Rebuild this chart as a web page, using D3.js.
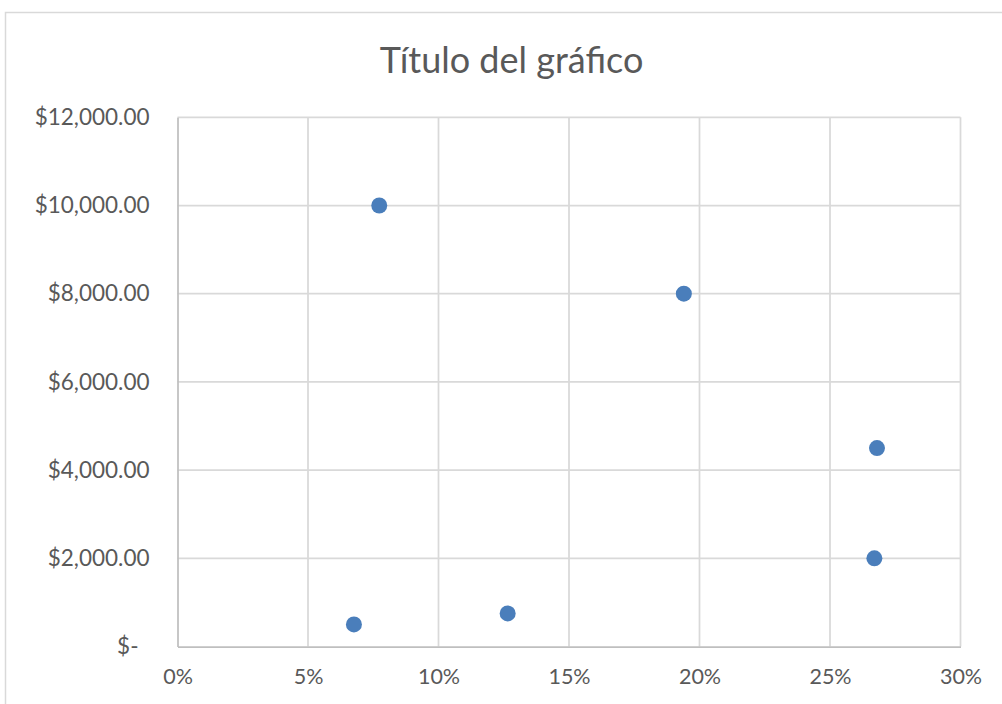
<!DOCTYPE html>
<html>
<head>
<meta charset="utf-8">
<script src="https://cdn.jsdelivr.net/npm/d3@7"></script>
<style>
  html, body { margin: 0; padding: 0; background: #ffffff; }
  svg { display: block; }
  text { font-family: Lato, "Open Sans", sans-serif; fill: #595959; }
</style>
</head>
<body>
<svg id="chart" width="1002" height="704"></svg>
<script>
// Rates (fraction) and amounts for each point of the scatter series
const rates   = [0.0773, 0.194, 0.268, 0.267, 0.0676, 0.1265];
const amounts = [10000, 8000, 4500, 2000, 500, 750];

// Axis ticks
const xTicks = [0, 0.05, 0.10, 0.15, 0.20, 0.25, 0.30];
const yTicks = [0, 2000, 4000, 6000, 8000, 10000, 12000];

const chartTitle = "Título del gráfico";

const svg = d3.select("#chart");
const margin = { left: 177.5, right: 1002 - 960.5, top: 117.3, bottom: 704 - 646.5 };
const W = 1002, H = 704;

// Chart area border
svg.append("rect")
  .attr("x", 5.5).attr("y", 12.5)
  .attr("width", 1030).attr("height", 760)
  .attr("fill", "#ffffff")
  .attr("stroke", "#d9d9d9")
  .attr("stroke-width", 1.5);

const x = d3.scaleLinear().domain([0, 0.30]).range([margin.left, W - margin.right]);
const y = d3.scaleLinear().domain([0, 12000]).range([H - margin.bottom, margin.top]);

// Gridlines
const grid = svg.append("g").attr("class", "grid");
grid.selectAll("line.v").data(xTicks.slice(1)).join("line")
  .attr("class", "v")
  .attr("x1", d => x(d)).attr("x2", d => x(d))
  .attr("y1", y(12000)).attr("y2", y(0))
  .attr("stroke", "#d9d9d9").attr("stroke-width", 1.75);
grid.selectAll("line.h").data(yTicks.slice(1)).join("line")
  .attr("class", "h")
  .attr("x1", x(0)).attr("x2", x(0.30))
  .attr("y1", d => y(d)).attr("y2", d => y(d))
  .attr("stroke", "#d9d9d9").attr("stroke-width", 1.75);

// Accounting-style currency labels
const money = d3.format(",.2f");
const yFmt = d => d === 0 ? "$-" : "$" + money(d);

const yAxis = d3.axisLeft(y).tickValues(yTicks).tickFormat(yFmt).tickSize(0).tickPadding(28);
const gy = svg.append("g").attr("transform", `translate(${x(0)},0)`).call(yAxis);
gy.select(".domain").attr("stroke", "#bfbfbf").attr("stroke-width", 1.75);
gy.selectAll(".tick text")
  .style("font-size", "22.5px").attr("fill", "#595959")
  .attr("dx", d => d === 0 ? -11 : 0);

const xAxis = d3.axisBottom(x).tickValues(xTicks).tickFormat(d3.format(".0%")).tickSize(0).tickPadding(22);
const gx = svg.append("g").attr("transform", `translate(0,${y(0)})`).call(xAxis);
gx.select(".domain").attr("stroke", "#bfbfbf").attr("stroke-width", 1.75);
gx.selectAll(".tick text").style("font-size", "21.5px").attr("fill", "#595959");

// Title
svg.append("text")
  .attr("x", 511.5).attr("y", 73)
  .attr("text-anchor", "middle")
  .style("font-size", "36px")
  .text(chartTitle);

// Markers
svg.append("g").selectAll("circle")
  .data(rates.map((r, i) => ({ r, a: amounts[i] })))
  .join("circle")
  .attr("cx", d => x(d.r))
  .attr("cy", d => y(d.a))
  .attr("r", 8)
  .attr("fill", "#4a7ebb");
</script>
</body>
</html>
